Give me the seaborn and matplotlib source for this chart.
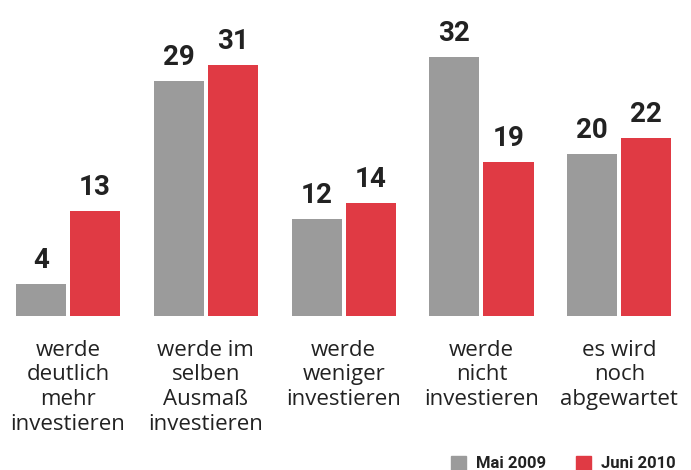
import pandas as pd
import matplotlib.pyplot as plt
import seaborn as sns

# Data
categories = [
    "werde\ndeutlich\nmehr\ninvestieren",
    "werde im\nselben\nAusmaß\ninvestieren",
    "werde\nweniger\ninvestieren",
    "werde\nnicht\ninvestieren",
    "es wird\nnoch\nabgewartet",
]
mai_2009 = [4, 29, 12, 32, 20]
juni_2010 = [13, 31, 14, 19, 22]
series_names = ["Mai 2009", "Juni 2010"]
colors = ["#9b9b9b", "#e03a44"]


def main():
    df = pd.DataFrame({
        "cat": categories * 2,
        "value": mai_2009 + juni_2010,
        "series": [series_names[0]] * len(categories) + [series_names[1]] * len(categories),
    })

    sns.set_style("white")
    plt.rcParams["font.family"] = ["Roboto", "DejaVu Sans"]

    fig = plt.figure(figsize=(6.91, 4.70), dpi=100)
    ax = fig.add_axes([0, 154 / 470, 1, 316 / 470])

    sns.barplot(data=df, x="cat", y="value", hue="series", palette=colors,
                width=0.784, gap=0.074, ax=ax, legend=False, saturation=1,
                edgecolor="none", linewidth=0)

    for cont in ax.containers:
        ax.bar_label(cont, padding=7, fontsize=20, fontweight="bold",
                     color="#222222")

    ax.set_xlim(-0.493, 4.52)
    ax.set_ylim(0, 39.0)
    ax.set_xlabel("")
    ax.set_ylabel("")
    ax.set_yticks([])
    ax.tick_params(axis="x", length=0, pad=17)
    for lbl in ax.get_xticklabels():
        lbl.set_family(["Open Sans", "DejaVu Sans"])
        lbl.set_fontsize(16)
        lbl.set_color("#222222")
        lbl.set_linespacing(1.24)
        lbl.set_verticalalignment("top")
    sns.despine(ax=ax, left=True, bottom=True)

    # Legend
    handles = [plt.Rectangle((0, 0), 1, 1, color=c) for c in colors]
    fig.legend(handles, series_names, loc="lower right",
               bbox_to_anchor=(1.0, -0.035), ncol=2, frameon=False,
               prop={"weight": "bold", "size": 12}, handlelength=0.9,
               handleheight=0.9, handletextpad=0.6, columnspacing=1.8,
               labelcolor="#222222")

    fig.savefig("out.png", dpi=100)


if __name__ == "__main__":
    main()
